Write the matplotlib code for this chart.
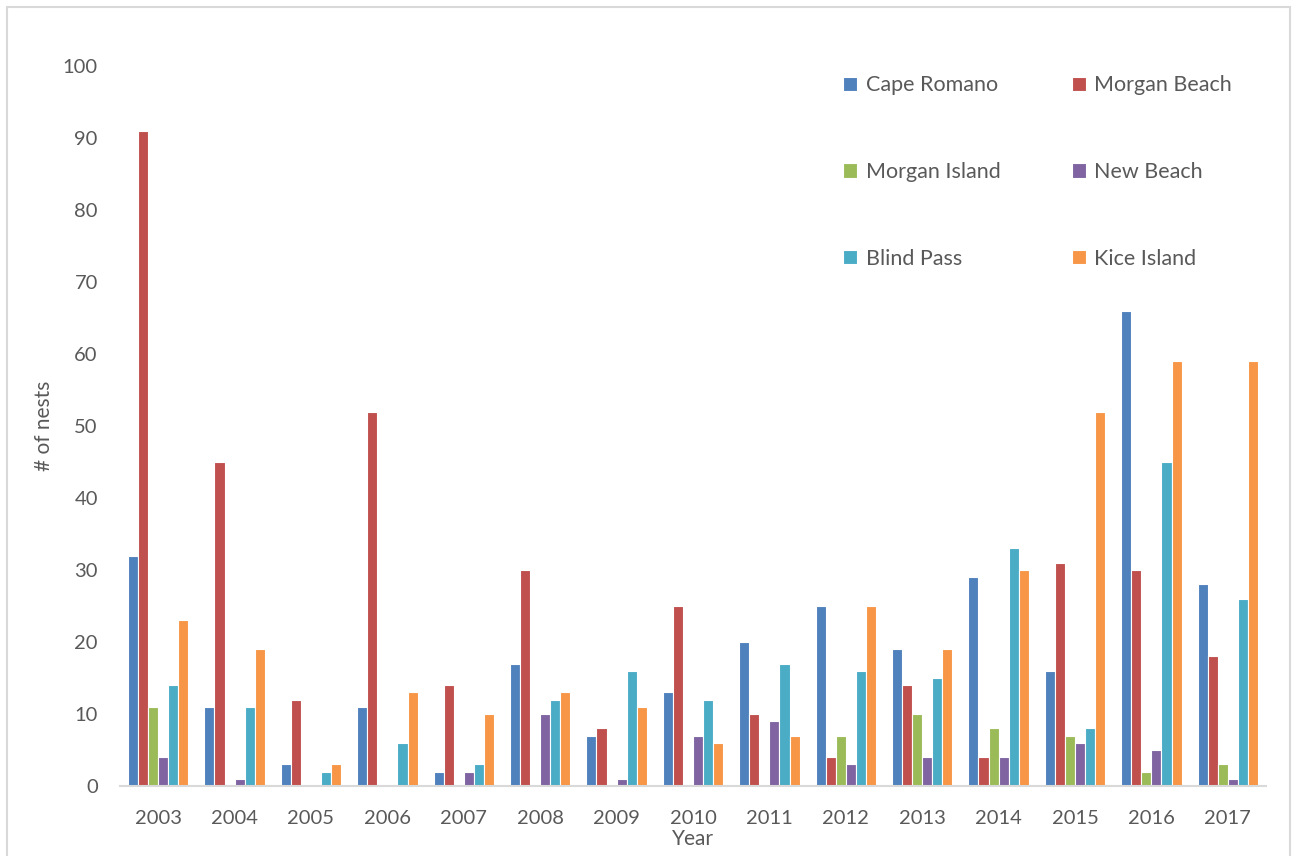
import matplotlib
matplotlib.use("Agg")
import matplotlib.pyplot as plt
import numpy as np
from matplotlib.patches import Rectangle

plt.rcParams['font.family'] = ['Lato', 'DejaVu Sans']

years = ['2003', '2004', '2005', '2006', '2007', '2008', '2009', '2010',
         '2011', '2012', '2013', '2014', '2015', '2016', '2017']

cape_romano = [32, 11, 3, 11, 2, 17, 7, 13, 20, 25, 19, 29, 16, 66, 28]
morgan_beach = [91, 45, 12, 52, 14, 30, 8, 25, 10, 4, 14, 4, 31, 30, 18]
morgan_island = [11, 0, 0, 0, 0, 0, 0, 0, 0, 7, 10, 8, 7, 2, 3]
new_beach = [4, 1, 0, 0, 2, 10, 1, 7, 9, 3, 4, 4, 6, 5, 1]
blind_pass = [14, 11, 2, 6, 3, 12, 16, 12, 17, 16, 15, 33, 8, 45, 26]
kice_island = [23, 19, 3, 13, 10, 13, 11, 6, 7, 25, 19, 30, 52, 59, 59]

site_names = ['Cape Romano', 'Morgan Beach', 'Morgan Island',
              'New Beach', 'Blind Pass', 'Kice Island']
site_colors = ['#4F81BD', '#C0504D', '#9BBB59', '#8064A2', '#4BACC6', '#F79646']
series = [cape_romano, morgan_beach, morgan_island, new_beach, blind_pass, kice_island]

text_color = '#595959'

fig = plt.figure(figsize=(12.95, 8.56), dpi=100)
ax = fig.add_axes([120 / 1295, 1 - 786 / 856, (1266 - 120) / 1295, (786 - 66) / 856])

x = np.arange(len(years))
width = 0.132
handles = []
for i, (name, vals, col) in enumerate(zip(site_names, series, site_colors)):
    offset = (i - 2.5) * width
    b = ax.bar(x + offset, vals, width, color=col, edgecolor='white',
               linewidth=0.8, label=name, zorder=2)
    handles.append(b)

ax.set_xlim(-0.5, len(years) - 0.5)
ax.set_ylim(0, 100)
ax.set_xticks(x)
ax.set_xticklabels(years)
ax.set_yticks(np.arange(0, 101, 10))

for side in ['top', 'right', 'left']:
    ax.spines[side].set_visible(False)
ax.spines['bottom'].set_color('#D9D9D9')
ax.spines['bottom'].set_linewidth(1.5)
ax.tick_params(axis='both', length=0, labelsize=14.5, colors=text_color)
ax.tick_params(axis='y', pad=16)
ax.tick_params(axis='x', pad=17)

ax.set_ylabel('# of nests', fontsize=15, color=text_color, labelpad=6)
ax.set_xlabel('Year', fontsize=15, color=text_color, labelpad=2)

# legend reads row-wise: two columns, three rows
order = [0, 2, 4, 1, 3, 5]
leg = ax.legend([handles[i] for i in order], [site_names[i] for i in order],
                ncol=2, loc='upper left', bbox_to_anchor=(0.62, 1.005),
                frameon=False, fontsize=15.5, labelspacing=3.1,
                handlelength=0.65, handleheight=0.65, handletextpad=0.4,
                columnspacing=3.3, borderaxespad=0.2)
for t in leg.get_texts():
    t.set_color(text_color)

# outer chart border
fig.patches.append(Rectangle((7 / 1295, -0.01), (1290 - 7) / 1295, 1.01 - 7 / 856,
                             transform=fig.transFigure, fill=False,
                             edgecolor='#D9D9D9', linewidth=1.5))

fig.savefig('out.png', dpi=100)
